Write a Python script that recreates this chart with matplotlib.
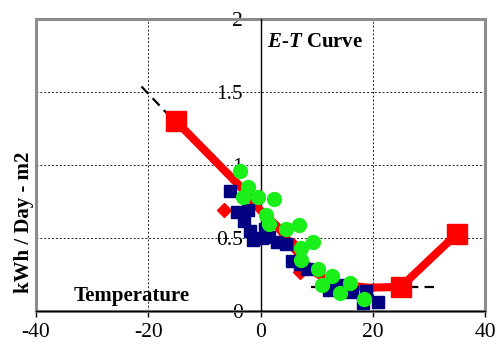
import matplotlib
matplotlib.use('Agg')
import matplotlib.pyplot as plt
from matplotlib.patches import Rectangle

plt.rcParams['font.family'] = ['Liberation Serif', 'DejaVu Serif']
plt.rcParams['mathtext.fontset'] = 'custom'
plt.rcParams['mathtext.it'] = 'Liberation Serif:italic:bold'
plt.rcParams['mathtext.rm'] = 'Liberation Serif:bold'
plt.rcParams['mathtext.bf'] = 'Liberation Serif:bold'

# ---- data ----
x_ticks = [-40, -20, 0, 20, 40]
x_labels = ['-40', '-20', '0', '20', '40']
y_ticks = [0, 0.5, 1, 1.5, 2]
y_labels = ['0', '0.5', '1', '1.5', '2']

# red model line
red_x = [-15, -4, 0, 3, 6, 9, 13, 19, 25, 35]
red_y = [1.30, 0.87, 0.69, 0.58, 0.43, 0.28, 0.19, 0.16, 0.165, 0.53]
# big red squares
red_sq_x = [-15, 25, 35]
red_sq_y = [1.30, 0.165, 0.53]
# small red diamonds
red_d_x = [-6.5, 5.8, 7.0]
red_d_y = [0.69, 0.45, 0.27]

# black dashed fit segments
fit1_x = [-21.2, -5]
fit1_y = [1.54, 0.88]
fit2_x = [9, 31]
fit2_y = [0.165, 0.165]

# navy squares
blue_x = [-5.5, -4.1, -2.2, -3.0, -1.8, -1.3, 0.2, 0.8, 1.5, 2.9, 4.5, 5.7, 7.0, 8.3,
          12.2, 14.2, 16.3, 18.8, 18.3, 21.0]
blue_y = [0.82, 0.68, 0.69, 0.62, 0.55, 0.49, 0.50, 0.56, 0.51, 0.47, 0.46, 0.34, 0.32, 0.29,
          0.145, 0.18, 0.13, 0.14, 0.055, 0.06]

# green circles
green_x = [-3.6, -2.2, -3.2, -0.4, 2.4, 0.9, 1.5, 4.5, 6.9, 9.4, 7.3, 7.2, 10.3, 12.7,
           10.9, 15.9, 14.2, 18.5]
green_y = [0.96, 0.85, 0.78, 0.78, 0.77, 0.66, 0.60, 0.56, 0.59, 0.47, 0.43, 0.35, 0.29, 0.24,
           0.18, 0.19, 0.12, 0.08]

# ---- figure ----
fig = plt.figure(figsize=(4.98, 3.45), dpi=100)
ax = fig.add_axes([0.0723, 0.0986, 0.9016, 0.845])
ax.set_xlim(-40, 40)
ax.set_ylim(0, 2)

ax.set_xticks(x_ticks)
ax.set_xticklabels(x_labels)
ax.set_yticks(y_ticks)
ax.set_yticklabels(y_labels)
ax.set_axisbelow(True)
ax.grid(True, linestyle=(0, (2, 2)), linewidth=0.7, color='#222222')

# frame
for s in ['top', 'right']:
    ax.spines[s].set_visible(False)
ax.add_patch(Rectangle((0, 0), 1, 1, transform=ax.transAxes, fill=False,
                       edgecolor='#8c8c8c', linewidth=2.2, zorder=0.9, clip_on=False))
ax.spines['left'].set_position(('data', 0))
ax.spines['left'].set_color('black')
ax.spines['left'].set_linewidth(1.0)
ax.spines['left'].set_zorder(1)
ax.spines['bottom'].set_color('black')
ax.spines['bottom'].set_linewidth(1.0)
ax.spines['bottom'].set_zorder(1)

ax.tick_params(axis='x', direction='out', length=4.5, width=1, colors='black',
               labelsize=15.5, pad=4)
ax.tick_params(axis='y', length=0, labelsize=15.5, pad=12.5)

# data
ax.plot(fit1_x, fit1_y, color='black', lw=1.6, dashes=(4.5, 2.8), zorder=1.8)
ax.plot(fit2_x, fit2_y, color='black', lw=1.6, dashes=(4.5, 2.8), zorder=1.8)
ax.plot(red_x, red_y, color='#ff0000', lw=5.8, solid_joinstyle='miter', zorder=2)
ax.plot(red_d_x, red_d_y, linestyle='none', marker='D', color='#ff0000',
        markersize=7, zorder=2)
ax.plot(blue_x, blue_y, linestyle='none', marker='s', color='#000080',
        markersize=8.8, zorder=3)
ax.plot(red_sq_x, red_sq_y, linestyle='none', marker='s', color='#ff0000',
        markersize=15, zorder=3.5)
ax.plot(green_x, green_y, linestyle='none', marker='o', color='#1aef1a',
        markersize=10, zorder=4)

# texts
ax.text(0.621, 0.921, r'$E$-$T$ Curve', transform=ax.transAxes, ha='center',
        va='center', fontsize=15, fontweight='bold')
ax.text(0.214, 0.05, 'Temperature', transform=ax.transAxes, ha='center',
        va='center', fontsize=15, fontweight='bold')
ax.text(-0.027, 0.305, 'kWh / Day - m2', transform=ax.transAxes, rotation=90,
        ha='center', va='center', fontsize=15, fontweight='bold')

fig.savefig('out.png', dpi=100)
